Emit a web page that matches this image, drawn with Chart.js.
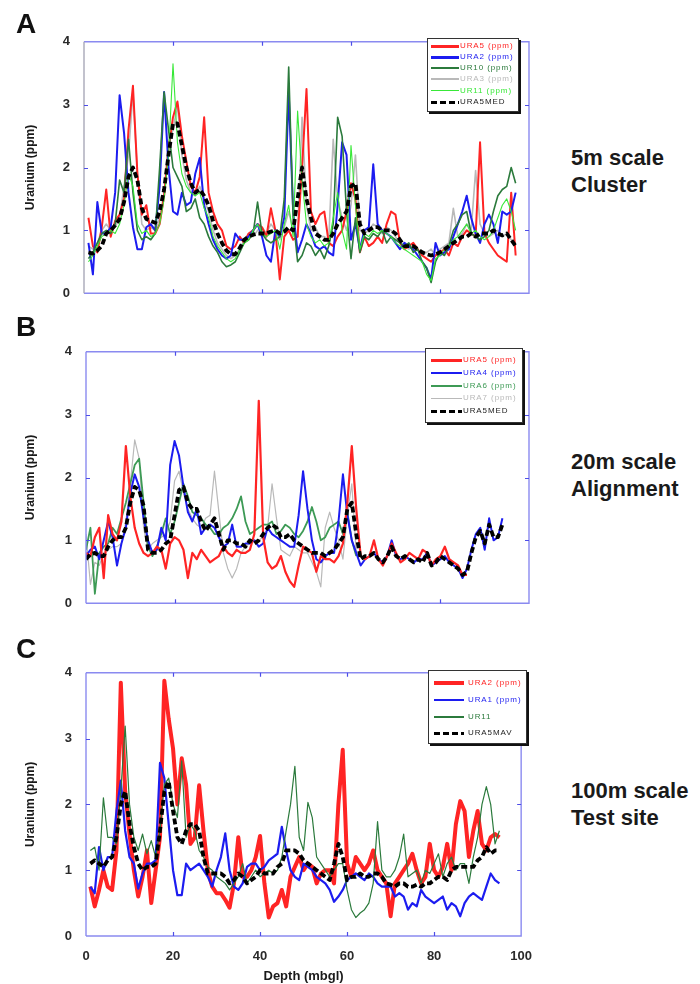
<!DOCTYPE html>
<html><head><meta charset="utf-8">
<script src="https://cdn.jsdelivr.net/npm/chart.js@4.4.0/dist/chart.umd.min.js"></script>
<style>
html,body{margin:0;padding:0;background:#fff;}
body{width:700px;height:984px;position:relative;overflow:hidden;font-family:"Liberation Sans",Arial,sans-serif;}
canvas{position:absolute;left:0;}
.letter{position:absolute;left:16px;font-weight:bold;font-size:28px;line-height:28px;color:#111;}
.note{position:absolute;left:571px;font-weight:bold;font-size:22px;line-height:27px;color:#1a1a1a;white-space:nowrap;}
.legend{position:absolute;background:#fff;border:1px solid #333;box-shadow:2px 2px 0 #111;box-sizing:border-box;}
.legend .sw{position:absolute;height:0;}
.legend .tx{position:absolute;font-size:8px;letter-spacing:0.9px;white-space:nowrap;line-height:10px;}
</style></head><body>
<canvas id="cA" width="545" height="295" style="top:20px"></canvas>
<canvas id="cB" width="545" height="295" style="top:330px"></canvas>
<canvas id="cC" width="545" height="333" style="top:651px"></canvas>
<div class="letter" style="top:10px">A</div>
<div class="letter" style="top:313px">B</div>
<div class="letter" style="top:635px">C</div>
<div class="note" style="top:144px">5m scale<br>Cluster</div>
<div class="note" style="top:448px">20m scale<br>Alignment</div>
<div class="note" style="top:777px">100m scale<br>Test site</div>
<script>
// ---------- DATA ----------
const depthA = [1,2,3,4,5,6,7,8,9,10,11,12,13,14,15,16,17,18,19,20,21,22,23,24,25,26,27,28,29,30,31,32,33,34,35,36,37,38,39,40,41,42,43,44,45,46,47,48,49,50,51,52,53,54,55,56,57,58,59,60,61,62,63,64,65,66,67,68,69,70,71,72,73,74,75,76,77,78,79,80,81,82,83,84,85,86,87,88,89,90,91,92,93,94,95,96,97];
const depthB = [0,1,2,3,4,5,6,7,8,9,10,11,12,13,14,15,16,17,18,19,20,21,22,23,24,25,26,27,28,29,30,31,32,33,34,35,36,37,38,39,40,41,42,43,44,45,46,47,48,49,50,51,52,53,54,55,56,57,58,59,60,61,62,63,64,65,66,67,68,69,70,71,72,73,74,75,76,77,78,79,80,81,82,83,84,85,86,87,88,89,90,91,92,93,94];
const depthC = [1,2,3,4,5,6,7,8,9,10,11,12,13,14,15,16,17,18,19,20,21,22,23,24,25,26,27,28,29,30,31,32,33,34,35,36,37,38,39,40,41,42,43,44,45,46,47,48,49,50,51,52,53,54,55,56,57,58,59,60,61,62,63,64,65,66,67,68,69,70,71,72,73,74,75,76,77,78,79,80,81,82,83,84,85,86,87,88,89,90,91,92,93,94,95];

const xTickValues = [0,20,40,60,80,100];
const yTickValues = [0,1,2,3,4];

const legendA = ["URA5 (ppm)","URA2 (ppm)","UR10 (ppm)","URA3 (ppm)","UR11 (ppm)","URA5MED"];
const legendB = ["URA5 (ppm)","URA4 (ppm)","URA6 (ppm)","URA7 (ppm)","URA5MED"];
const legendC = ["URA2 (ppm)","URA1 (ppm)","UR11","URA5MAV"];

// Panel A
const aURA5 = [1.20,0.75,0.65,1.05,1.65,0.90,1.15,1.25,1.50,2.60, 3.30,1.90,1.25,1.40,0.95,0.95,1.10,1.55,2.30,2.80, 3.05,2.50,2.10,1.70,1.60,1.85,2.80,1.60,1.30,1.10, 1.00,0.75,0.70,0.75,0.90,0.80,0.95,1.00,1.10,1.05, 0.90,1.35,1.00,0.22,0.90,1.00,0.85,0.90,2.00,3.25, 1.30,1.10,1.25,1.30,0.80,0.75,0.90,1.00,1.30,1.75, 1.50,0.65,0.90,0.75,0.80,0.90,0.80,1.10,1.30,1.25, 0.80,0.70,0.75,0.80,0.70,0.60,0.55,0.50,0.60,0.65, 0.70,0.60,0.80,0.75,0.90,1.00,0.95,0.90,2.40,0.95, 0.80,0.70,0.60,0.55,0.50,1.60,0.60];
const aURA2 = [0.80,0.30,1.45,0.95,0.95,1.05,1.60,3.15,2.55,1.60, 1.05,0.70,0.70,1.05,1.10,1.00,1.70,3.20,2.00,1.30, 1.25,1.60,1.40,1.45,1.90,2.15,1.40,1.10,0.85,0.70, 0.60,0.55,0.60,0.95,0.85,0.85,0.90,1.00,1.10,0.90, 0.60,0.50,1.00,0.90,1.20,3.20,1.30,0.65,0.85,1.10, 0.95,0.75,0.70,0.75,0.65,0.60,1.40,2.40,2.20,0.85, 1.10,0.70,1.00,1.05,2.05,1.10,1.00,0.95,0.90,0.80, 0.70,0.80,0.75,0.70,0.60,0.50,0.40,0.22,0.80,0.60, 0.65,0.70,0.90,1.10,1.30,1.55,1.20,0.95,0.80,1.10, 1.25,1.10,0.80,1.30,1.25,1.30,1.60];
const aUR10 = [0.55,0.65,0.80,0.95,1.00,0.95,1.10,1.80,1.60,2.45, 1.60,1.00,0.85,0.90,0.85,0.95,2.00,3.20,2.60,2.00, 1.85,1.70,1.30,1.35,1.50,1.20,1.10,0.90,0.75,0.65, 0.50,0.42,0.45,0.50,0.65,0.80,0.85,0.95,1.45,0.95, 0.85,0.80,0.85,0.90,1.50,3.60,1.20,0.50,0.60,0.80, 0.75,0.60,0.70,0.55,0.75,1.10,2.80,2.50,1.30,0.55, 1.20,0.65,0.90,0.85,0.95,0.90,1.00,0.80,0.90,0.85, 0.80,0.75,0.80,0.65,0.70,0.50,0.40,0.17,0.50,0.65, 0.60,0.75,1.00,1.10,1.25,1.30,0.95,0.90,0.85,0.90, 1.00,1.30,1.55,1.65,1.70,2.00,1.75];
const aURA3 = [0.75,0.70,0.80,1.00,1.10,1.00,1.05,1.20,1.70,2.20, 3.20,1.90,1.10,1.00,1.05,1.00,1.20,1.60,2.40,2.60, 3.00,2.20,1.80,1.60,1.55,1.70,1.50,1.30,1.00,0.80, 0.70,0.60,0.55,0.60,0.70,0.85,0.95,0.90,1.00,1.05, 0.95,1.10,1.00,0.85,1.05,1.30,1.00,0.90,2.80,1.40, 1.00,1.05,0.90,0.90,0.85,2.45,1.50,1.20,1.00,1.40, 2.20,1.00,0.95,1.00,1.10,1.05,0.95,1.05,1.00,0.90, 0.80,0.75,0.70,0.75,0.70,0.60,0.65,0.70,0.60,0.70, 0.75,0.80,1.35,0.90,0.95,1.10,1.00,1.95,1.10,0.95, 0.90,0.95,1.00,0.90,0.95,0.85,0.80];
const aUR11 = [0.50,0.60,0.75,0.90,0.95,1.00,0.95,1.10,1.40,1.90, 1.70,1.10,0.95,1.00,0.90,0.95,1.10,1.50,2.20,3.65, 2.40,1.90,1.70,1.60,1.55,1.60,1.35,1.20,0.90,0.75, 0.65,0.55,0.50,0.55,0.70,0.80,0.85,1.00,1.10,0.95, 0.90,0.95,1.00,0.70,1.10,1.40,0.90,2.90,1.80,1.10, 0.90,0.80,0.85,0.75,0.80,1.20,1.60,1.00,0.70,2.35, 1.40,0.70,0.95,0.90,1.00,0.95,1.00,0.95,0.90,0.80, 0.75,0.70,0.65,0.60,0.55,0.50,0.30,0.20,0.55,0.60, 0.70,0.75,0.85,0.90,1.00,1.10,0.95,1.00,0.90,0.85, 0.90,1.00,1.20,1.40,1.50,1.30,1.00];
const aURA5MED = [0.65,0.63,0.68,0.75,0.95,1.00,1.08,1.18,1.45,1.85, 2.00,1.80,1.35,1.18,1.15,1.12,1.30,1.65,2.20,2.70, 2.70,2.35,2.00,1.75,1.60,1.65,1.55,1.40,1.15,0.95, 0.80,0.68,0.62,0.62,0.72,0.85,0.90,0.93,0.95,0.95, 0.95,0.98,1.00,0.95,0.98,1.05,1.00,1.50,2.00,1.50, 1.20,0.95,0.90,0.85,0.85,0.95,1.10,1.20,1.30,1.70, 1.75,1.10,0.95,1.00,1.05,1.05,1.00,1.00,1.00,0.95, 0.85,0.75,0.75,0.75,0.70,0.65,0.62,0.60,0.62,0.65, 0.70,0.75,0.80,0.85,0.90,0.90,0.95,0.90,0.95,0.95, 0.95,1.00,0.95,0.92,0.95,0.85,0.75];

// Panel B
const bURA5 = [0.80,0.75,1.05,1.20,0.40,1.40,1.10,1.00,1.30,2.50, 1.70,1.20,0.95,0.80,0.75,0.80,0.90,0.85,0.55,0.95, 1.05,1.00,0.85,0.40,0.80,0.70,0.85,0.75,0.65,0.70, 0.75,0.90,0.80,0.75,0.85,0.80,0.80,0.85,1.10,3.22, 1.05,0.65,0.55,0.60,0.75,0.50,0.35,0.26,0.60,0.90, 0.85,0.80,0.50,0.75,0.70,0.70,0.65,0.75,0.95,1.60, 2.50,1.50,0.75,0.70,0.75,1.00,0.70,0.60,0.75,0.95, 0.80,0.65,0.70,0.80,0.75,0.70,0.85,0.80,0.60,0.70, 0.75,0.90,0.70,0.65,0.60,0.45,0.45];
const bURA4 = [0.75,0.85,0.90,0.70,1.00,1.30,1.05,0.60,0.95,1.20, 1.75,2.05,1.85,1.35,1.00,0.80,0.85,1.20,1.00,2.20, 2.58,2.35,1.85,1.45,1.30,1.50,1.10,1.20,1.25,1.20, 1.05,0.90,0.95,1.25,0.90,0.90,0.95,0.95,1.00,0.90, 0.95,1.20,1.10,1.05,1.00,0.95,0.90,0.90,1.40,2.10, 1.50,1.00,0.70,0.65,0.75,0.80,0.80,1.30,2.05,1.40, 1.00,0.80,0.60,0.70,0.75,0.80,0.70,0.65,0.75,1.00, 0.75,0.70,0.75,0.70,0.65,0.70,0.70,0.80,0.60,0.65, 0.70,0.75,0.65,0.60,0.55,0.40,0.55,0.85,1.10,1.20, 0.85,1.35,1.00,1.05,1.35];
const bURA6 = [0.85,1.20,0.15,0.80,0.90,0.95,1.20,1.10,1.35,1.60, 1.90,2.20,2.30,1.60,0.90,0.75,0.90,1.10,1.35,1.10, 1.30,1.60,1.90,1.70,1.45,1.40,1.35,1.25,1.20,1.10, 1.10,1.20,1.25,1.35,1.50,1.70,1.30,1.10,1.15,1.20, 1.25,1.25,1.30,1.10,1.15,1.25,1.20,1.10,1.05,1.15, 1.30,1.53,1.30,1.00,1.05,1.20,1.25,1.30,1.10,1.45, 1.00,0.75];
const bURA7 = [1.10,0.30,0.65,0.60,0.80,0.85,0.90,0.90,0.95,1.30, 1.90,2.60,2.30,1.20,0.85,0.95,1.00,1.05,1.10,1.30, 1.95,2.10,1.75,1.50,1.35,1.25,1.20,1.35,1.40,2.10, 1.45,0.80,0.55,0.40,0.55,0.80,0.90,0.95,1.00,1.00, 1.05,1.20,1.90,1.35,0.85,0.80,0.75,0.90,0.85,0.80, 0.80,0.65,0.50,0.26,1.20,1.45,1.20,1.00,0.70,1.40, 1.90,0.80];
const bURA5MED = [0.70,0.78,0.80,0.75,0.75,0.90,1.00,1.05,1.05,1.20, 1.60,1.85,1.80,1.55,0.85,0.80,0.80,0.85,0.95,1.00, 1.40,1.80,1.85,1.60,1.50,1.50,1.30,1.15,1.25,1.35, 1.10,0.85,1.00,1.00,0.95,0.95,0.90,1.00,0.95,1.00, 1.10,1.20,1.25,1.20,1.05,1.05,1.10,1.00,0.95,0.90, 0.85,0.80,0.80,0.80,0.75,0.80,0.85,0.95,1.05,1.50, 1.60,1.10,0.70,0.75,0.75,0.80,0.70,0.65,0.75,0.90, 0.75,0.70,0.75,0.70,0.65,0.70,0.65,0.80,0.60,0.65, 0.75,0.70,0.65,0.60,0.55,0.45,0.50,0.80,1.05,1.15, 0.95,1.25,1.05,1.05,1.25];

// Panel C
const cURA2 = [0.75,0.45,0.70,1.00,0.75,0.70,1.30,3.85,2.20,1.55, 1.00,0.60,0.90,1.30,0.50,1.00,1.50,3.88,3.30,2.85, 2.00,2.70,2.30,1.40,1.50,2.29,1.60,1.00,0.75,0.65, 0.65,0.55,0.43,0.80,1.50,0.90,0.90,1.00,1.20,1.52, 0.80,0.28,0.45,0.50,0.70,0.45,0.90,1.05,1.20,1.00, 1.10,1.05,0.80,0.95,1.00,1.00,0.80,2.00,2.83,1.10, 0.90,1.20,1.10,1.00,1.10,1.30,1.00,0.90,0.80,0.30, 0.80,0.90,1.00,1.10,1.25,1.00,0.80,0.90,1.40,1.00, 0.90,1.05,1.40,1.00,1.70,2.05,1.90,1.20,1.60,1.90, 1.40,1.30,1.50,1.55,1.50];
const cURA1 = [0.75,0.65,1.35,1.00,1.20,1.20,1.90,2.36,1.60,1.20, 1.10,0.72,0.95,1.10,1.10,1.15,2.63,2.40,1.70,1.00, 0.62,0.62,1.10,1.00,1.05,1.10,1.00,0.90,0.75,1.00, 1.20,1.56,1.00,0.75,0.70,0.80,1.05,1.10,1.10,1.00, 1.05,1.15,1.20,1.25,1.66,1.30,1.00,0.90,0.85,1.10, 1.05,1.00,0.90,0.85,0.80,0.70,0.52,0.60,0.70,0.85, 0.90,0.95,0.90,0.85,0.95,0.90,0.80,0.75,0.75,0.75, 0.60,0.65,0.60,0.40,0.50,0.45,0.70,0.60,0.55,0.50, 0.55,0.60,0.40,0.50,0.45,0.30,0.50,0.60,0.65,0.60, 0.55,0.75,0.95,0.85,0.80];
const cUR11 = [1.30,1.35,1.00,2.10,1.50,1.50,1.40,2.20,3.19,2.00, 1.50,1.30,1.55,1.25,1.45,1.20,1.60,2.30,2.40,2.00, 1.80,2.66,1.50,1.70,1.60,1.30,1.20,1.05,1.00,0.90, 0.85,0.80,0.70,0.80,0.90,1.10,0.80,0.90,1.00,0.90, 0.95,1.00,0.95,1.00,1.20,1.60,2.00,2.58,1.50,1.30, 2.03,1.80,1.20,1.10,1.00,0.90,1.00,1.10,1.10,0.70, 0.40,0.28,0.35,0.40,0.50,0.80,1.74,1.00,0.90,0.90, 1.00,1.20,1.55,0.90,0.95,1.00,0.80,1.00,0.95,1.10, 1.25,0.90,1.10,1.20,1.00,1.10,1.10,0.80,1.20,1.50, 2.00,2.27,2.00,1.40,1.60];
const cURA5MAV = [1.10,1.15,1.10,1.05,1.15,1.20,1.50,2.00,2.20,1.70, 1.35,1.10,1.00,1.05,1.05,1.10,1.60,2.20,2.35,1.90, 1.50,1.40,1.60,1.70,1.70,1.60,1.20,0.95,0.95,0.95, 0.95,0.90,0.80,0.85,0.95,0.90,0.80,0.85,0.90,1.00, 0.95,0.95,0.95,1.05,1.10,1.30,1.30,1.30,1.25,1.15, 1.10,1.05,1.00,0.95,0.90,0.85,1.10,1.40,1.20,0.85, 0.90,0.90,0.95,0.90,0.90,0.95,0.95,0.90,0.80,0.78, 0.75,0.80,0.80,0.75,0.75,0.78,0.75,0.80,0.80,0.85, 0.90,0.90,0.85,1.00,1.05,1.05,1.05,1.05,1.05,1.15, 1.20,1.35,1.25,1.30,1.30];

// ---------- STYLES ----------
const RED = '#ff2424', BLUE = '#1c1cf0', DKGREEN = '#2b7a3c', GREEN = '#3d9a55', GRAY = '#b9b9b9', LTGREEN = '#38e838', BLACK = '#000000';
const FONT = '"Liberation Sans", Arial, sans-serif';

function pts(depth, vals){ return vals.map((v,i)=>({x:depth[i], y:v})); }
function ds(label, depth, vals, color, width, order, dashed){
  return {label, data:pts(depth, vals), borderColor:color, borderWidth:width, order,
    borderDash: dashed ? [6,3] : [], pointRadius:0, tension:0, fill:false,
    borderJoinStyle:'round', borderCapStyle:'butt'};
}

const framePlugin = {
  id:'frame',
  afterDatasetsDraw(chart, args, opts){
    const {ctx, chartArea:a, scales:{x,y}} = chart;
    ctx.save();
    ctx.lineWidth = 1.4;
    ctx.strokeStyle = opts.color;
    ctx.beginPath();
    ctx.moveTo(a.left, a.top); ctx.lineTo(a.right, a.top); ctx.lineTo(a.right, a.bottom); ctx.lineTo(a.left, a.bottom);
    ctx.stroke();
    ctx.strokeStyle = opts.leftColor || opts.color;
    ctx.beginPath(); ctx.moveTo(a.left, a.top); ctx.lineTo(a.left, a.bottom); ctx.stroke();
    ctx.strokeStyle = opts.tickColor; ctx.lineWidth = 1.2;
    ctx.beginPath();
    xTickValues.slice(1,-1).forEach(v=>{
      const px = Math.round(x.getPixelForValue(v))+0.5;
      ctx.moveTo(px, a.top); ctx.lineTo(px, a.top+4);
      ctx.moveTo(px, a.bottom); ctx.lineTo(px, a.bottom-4);
    });
    yTickValues.slice(1,-1).forEach(v=>{
      const py = Math.round(y.getPixelForValue(v))+0.5;
      ctx.moveTo(a.left, py); ctx.lineTo(a.left+4, py);
      ctx.moveTo(a.right, py); ctx.lineTo(a.right-4, py);
    });
    ctx.stroke();
    ctx.restore();
  }
};

function makePanel(id, datasets, leftW, rightPad, xAxisH, showX, leftColor){
  return new Chart(document.getElementById(id), {
    type:'line',
    data:{datasets},
    options:{
      responsive:false, animation:false, devicePixelRatio:1,
      layout:{padding:{top:10, right:rightPad, left:0, bottom:0}},
      plugins:{legend:{display:false}, tooltip:{enabled:false},
        frame:{color:'#8a8af0', tickColor:'#4d4de8', leftColor}},
      scales:{
        x:{type:'linear', min:0, max:100,
          afterBuildTicks:s=>{ s.ticks = xTickValues.map(v=>({value:v})); },
          ticks:{display:showX, padding:13, color:'#2a2a2a', font:{family:FONT, size:13, weight:'bold'}},
          grid:{display:false, drawTicks:false}, border:{display:false},
          title:{display:showX, text:'Depth (mbgl)', color:'#1a1a1a', font:{family:FONT, size:13, weight:'bold'}, padding:{top:0,bottom:0}},
          afterFit:s=>{ s.height = xAxisH; }},
        y:{type:'linear', min:0, max:4,
          afterBuildTicks:s=>{ s.ticks = yTickValues.map(v=>({value:v})); },
          ticks:{padding:14, color:'#2a2a2a', font:{family:FONT, size:13, weight:'bold'}},
          grid:{display:false, drawTicks:false}, border:{display:false},
          title:{display:true, text:'Uranium (ppm)', color:'#1a1a1a', font:{family:FONT, size:12, weight:'bold'}, padding:{top:23,bottom:0}},
          afterFit:s=>{ s.width = leftW; }}
      }
    },
    plugins:[framePlugin]
  });
}

const setA = [
  {name:legendA[0], vals:aURA5, color:RED, w:2.0, sw:3, order:5},
  {name:legendA[1], vals:aURA2, color:BLUE, w:2.0, sw:3, order:4},
  {name:legendA[2], vals:aUR10, color:DKGREEN, w:1.6, sw:2, order:3},
  {name:legendA[3], vals:aURA3, color:GRAY, w:1.6, sw:2, order:6},
  {name:legendA[4], vals:aUR11, color:LTGREEN, w:1.1, sw:1.5, order:2},
  {name:legendA[5], vals:aURA5MED, color:BLACK, w:3.8, sw:3, order:0, dashed:true}
];
const setB = [
  {name:legendB[0], vals:bURA5, color:RED, w:2.2, sw:3, order:2},
  {name:legendB[1], vals:bURA4, color:BLUE, w:2.0, sw:2, order:3},
  {name:legendB[2], vals:bURA6, color:GREEN, w:1.8, sw:2, order:4},
  {name:legendB[3], vals:bURA7, color:GRAY, w:1.2, sw:1, order:5},
  {name:legendB[4], vals:bURA5MED, color:BLACK, w:3.8, sw:3, order:0, dashed:true}
];
const setC = [
  {name:legendC[0], vals:cURA2, color:RED, w:4.0, sw:4, order:3},
  {name:legendC[1], vals:cURA1, color:BLUE, w:2.2, sw:2, order:2},
  {name:legendC[2], vals:cUR11, color:DKGREEN, w:1.2, sw:2, order:1},
  {name:legendC[3], vals:cURA5MAV, color:BLACK, w:3.8, sw:3, order:0, dashed:true}
];

makePanel('cA', setA.map(s=>ds(s.name, depthA, s.vals, s.color, s.w, s.order, s.dashed)), 84, 16, 10, false, '#a8a8b8');
makePanel('cB', setB.map(s=>ds(s.name, depthB, s.vals, s.color, s.w, s.order, s.dashed)), 86, 16, 10, false);
makePanel('cC', setC.map(s=>ds(s.name, depthC, s.vals, s.color, s.w, s.order, s.dashed)), 86, 13, 48, true);

// ---------- LEGENDS (HTML) ----------
function legend(set, box){
  const d = document.createElement('div');
  d.className = 'legend';
  Object.assign(d.style, {left:box.left+'px', top:box.top+'px', width:box.w+'px', height:box.h+'px'});
  set.forEach((s,i)=>{
    const y = box.rows[i];
    const sw = document.createElement('div');
    sw.className = 'sw';
    sw.style.left = box.swL+'px'; sw.style.width = box.swW+'px';
    sw.style.top = (y - s.sw/2)+'px'; sw.style.height = s.sw+'px';
    sw.style.background = s.dashed ? 'repeating-linear-gradient(to right,#000 0 6px,transparent 6px 9px)' : s.color;
    d.appendChild(sw);
    const t = document.createElement('div');
    t.className = 'tx'; t.textContent = s.name;
    t.style.left = box.txL+'px'; t.style.top = (y-5)+'px';
    t.style.color = s.color === BLACK ? '#222' : s.color;
    d.appendChild(t);
  });
  document.body.appendChild(d);
}
legend(setA, {left:427, top:38, w:92, h:74, rows:[7,18,29,40,51.5,63], swL:3, swW:28, txL:32});
legend(setB, {left:425, top:348, w:98, h:75, rows:[11,24,37,49,62], swL:5, swW:31, txL:37});
legend(setC, {left:428, top:670, w:99, h:74, rows:[12,29,46,62], swL:5, swW:30, txL:39});
</script>
</body></html>
